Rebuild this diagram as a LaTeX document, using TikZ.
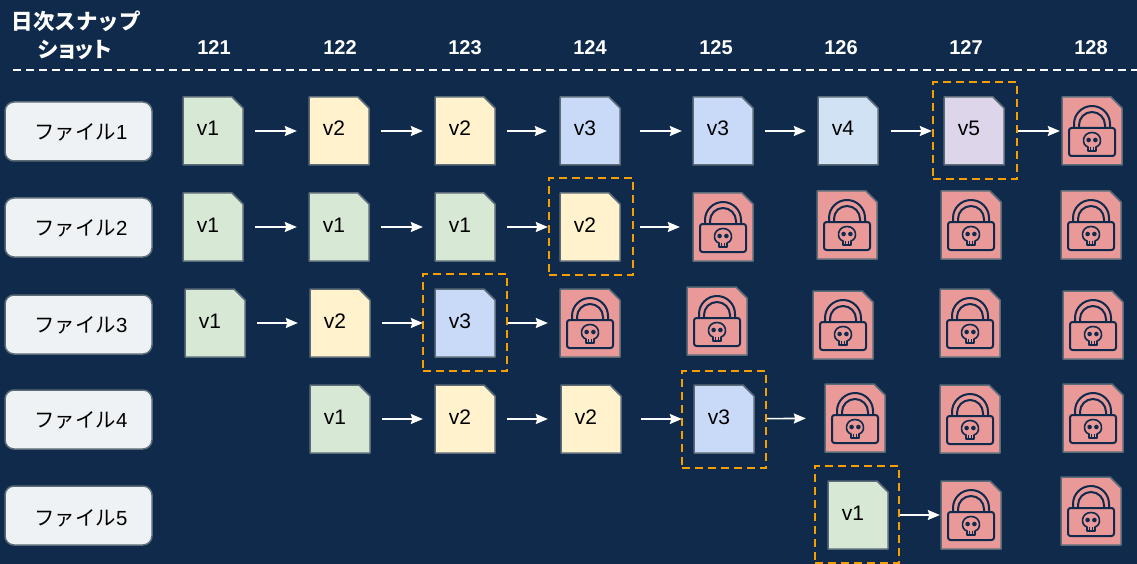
\documentclass[tikz,border=0pt]{standalone}
\usepackage{fontspec}
\setmainfont{Liberation Sans}
\newfontfamily\cjk{Noto Sans CJK JP}
\newfontfamily\cjkp[RawFeature=+palt]{Noto Sans CJK JP}
\usetikzlibrary{arrows.meta}
\definecolor{bgc}{HTML}{0F2A4B}
\definecolor{edgec}{HTML}{5B6B78}
\definecolor{boxc}{HTML}{EEF2F4}
\definecolor{grn}{HTML}{D7E8D4}
\definecolor{yel}{HTML}{FFF2CC}
\definecolor{blu}{HTML}{C9DAF8}
\definecolor{lbl}{HTML}{D0E2F3}
\definecolor{pur}{HTML}{DDD5EA}
\definecolor{redc}{HTML}{EA9999}
\definecolor{orng}{HTML}{F5A000}
\tikzset{
  x=1pt,y=-1pt,
  docfold/.style={draw=edgec,line width=1.5pt,line join=round},
  docnode/.style={minimum width=60pt,minimum height=68pt,inner sep=0pt,font=\fontsize{21}{25}\selectfont,text=black},
  filebox/.style={draw=edgec,line width=1.5pt,fill=boxc,rounded corners=9pt,minimum width=147pt,minimum height=59pt,inner sep=0pt,text=black,font=\fontsize{20.4}{24}\selectfont},
  hdr/.style={text=white,inner sep=0pt,font=\bfseries\fontsize{20}{24}\selectfont},
  hdrj/.style={text=white,inner sep=0pt,font=\fontsize{21.5}{25}\selectfont},
  flow/.style n args={2}{draw=white,line width=1.6pt,-{Stealth[length=12pt,width=10pt,inset=1.5pt]},shorten <=#1pt,shorten >=#2pt},
  focus/.style={draw=orng,line width=1.6pt,dash pattern=on 8pt off 5pt,minimum width=84pt,minimum height=97pt,inner sep=0pt},
  lockline/.style={draw=bgc,line width=2pt,line join=round,line cap=round},
}
\newcommand{\docshape}[4]{%
  \path[docfold,fill=#4] (#2,#3) -- (#2+49,#3) -- (#2+60,#3+11) -- (#2+60,#3+68) -- (#2,#3+68) -- cycle;
}
\newcommand{\docv}[5]{%
  \docshape{#1}{#2}{#3}{#4}
  \node[docnode] (#1) at (#2+30,#3+34) {\raisebox{-5pt}[12pt][12pt]{#5}\kern10pt};
}
\newcommand{\docl}[3]{%
  \docshape{#1}{#2}{#3}{redc}
  \node[docnode] (#1) at (#2+30,#3+34) {};
  \begin{scope}[shift={(#1.center)}]
    \path[lockline,rounded corners=2.5pt] (-23,-3) rectangle (23,25);
    \path[lockline] (-18,-3) -- (-18,-7) arc[start angle=180,end angle=360,radius=18] -- (18,-3);
    \path[lockline] (-13,-3) -- (-13,-6) arc[start angle=180,end angle=360,radius=13] -- (13,-3);
    \path[draw=bgc,line width=1.6pt,line join=round] (-4,20) -- (-4,16)
       .. controls (-11,14) and (-10,1.5) .. (0,1.5) .. controls (10,1.5) and (11,14) .. (4,16) -- (4,20) -- cycle;
    \fill[bgc] (-3.4,9) circle[radius=2.3];
    \fill[bgc] (3.4,9) circle[radius=2.3];
    \path[draw=bgc,line width=1pt] (-1.2,16) -- (-1.2,20) (1.2,16) -- (1.2,20);
  \end{scope}
}
\newcommand{\filetext}[2][-8pt]{\hspace{5pt}\raisebox{#1}[12pt][12pt]{{\cjk ファイル}#2}}
\begin{document}
\begin{tikzpicture}
\useasboundingbox (0,0) rectangle (1137,564);
\fill[bgc] (0,0) rectangle (1137,564);

\node[hdrj] (t1) at (76,21) {\cjk\bfseries 日次スナップ};
\node[hdrj] (t2) at (75,50) {\cjkp\bfseries ショット};
\foreach \n/\x in {121/214,122/340,123/465,124/590,125/716,126/841,127/966,128/1091}
  \node[hdr] (h\n) at (\x,48) {\n};
\coordinate (dl) at (13,70);
\coordinate (dr) at (1137,70);
\draw[white,line width=1.6pt,dash pattern=on 8pt off 5pt] (dl) -- (dr);

\node[filebox] (f1) at (78.5,131.5) {\filetext{1}};
\node[filebox] (f2) at (78.5,227.5) {\filetext{2}};
\node[filebox] (f3) at (78.5,324.5) {\filetext{3}};
\node[filebox] (f4) at (78.5,419.5) {\filetext{4}};
\node[filebox] (f5) at (78.5,515.5) {\filetext[-10pt]{5}};

% row 1
\docv{a1}{183}{97}{grn}{v1}
\docv{a2}{309}{97}{yel}{v2}
\docv{a3}{435}{97}{yel}{v2}
\docv{a4}{560}{97}{blu}{v3}
\docv{a5}{693}{97}{blu}{v3}
\docv{a6}{818}{97}{lbl}{v4}
\docv{a7}{944}{97}{pur}{v5}
\docl{a8}{1062}{97}
% row 2
\docv{b1}{183}{193}{grn}{v1}
\docv{b2}{309}{193}{grn}{v1}
\docv{b3}{435}{193}{grn}{v1}
\docv{b4}{560}{193}{yel}{v2}
\docl{b5}{693}{193}
\docl{b6}{817}{191}
\docl{b7}{941}{191}
\docl{b8}{1061}{191}
% row 3
\docv{c1}{185}{289}{grn}{v1}
\docv{c2}{310}{289}{yel}{v2}
\docv{c3}{435}{289}{blu}{v3}
\docl{c4}{560}{289}
\docl{c5}{687}{287}
\docl{c6}{813}{291}
\docl{c7}{940}{289}
\docl{c8}{1063}{291}
% row 4
\docv{d2}{310}{385}{grn}{v1}
\docv{d3}{435}{385}{yel}{v2}
\docv{d4}{561}{385}{yel}{v2}
\docv{d5}{694}{385}{blu}{v3}
\docl{d6}{825}{384}
\docl{d7}{940}{385}
\docl{d8}{1063}{384}
% row 5
\docv{e6}{828}{481}{grn}{v1}
\docl{e7}{941}{481}
\docl{e8}{1061}{477}

% arrows
\draw[flow={12}{12}] (a1) -- (a2);
\draw[flow={12}{12}] (a2) -- (a3);
\draw[flow={12}{13}] (a3) -- (a4);
\draw[flow={20}{11}] (a4) -- (a5);
\draw[flow={12}{12}] (a5) -- (a6);
\draw[flow={13}{12}] (a6) -- (a7);
\draw[flow={14}{2}] (a7) -- (a8);
\draw[flow={12}{12}] (b1) -- (b2);
\draw[flow={12}{12}] (b2) -- (b3);
\draw[flow={12}{12}] (b3) -- (b4);
\draw[flow={20}{13}] (b4) -- (b5);
\draw[flow={12}{12}] (c1) -- (c2);
\draw[flow={12}{12}] (c2) -- (c3);
\draw[flow={13}{12}] (c3) -- (c4);
\draw[flow={12}{12}] (d2) -- (d3);
\draw[flow={12}{13}] (d3) -- (d4);
\draw[flow={20}{12}] (d4) -- (d5);
\draw[flow={12}{19}] (d5) -- (d6);
\draw[flow={11}{1}] (e6) -- (e7);

% focus frames
\node[focus] (m1) at (975,130.5) {};
\node[focus] (m2) at (591,226.5) {};
\node[focus] (m3) at (465,322.5) {};
\node[focus] (m4) at (724,419.5) {};
\node[focus] (m5) at (857,514.5) {};
\end{tikzpicture}
\end{document}
